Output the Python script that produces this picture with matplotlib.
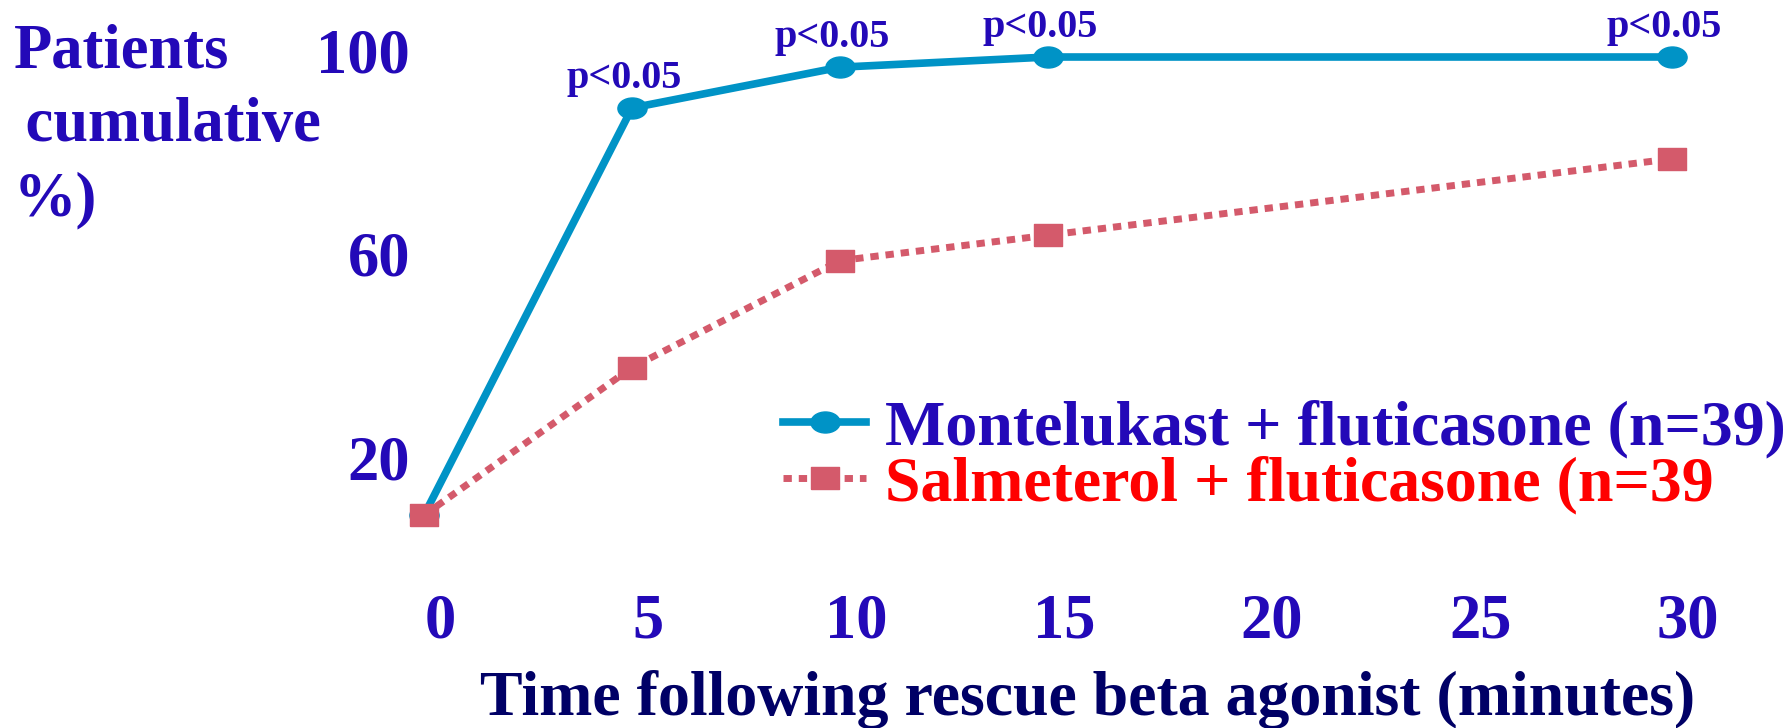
import matplotlib
matplotlib.use("Agg")
import numpy as np
import matplotlib.pyplot as plt
from matplotlib.path import Path
from matplotlib.transforms import ScaledTranslation

# values
time_min = [0, 5, 10, 15, 30]
montelukast_pct = [10, 90, 98, 100, 100]
salmeterol_pct = [10, 39, 60, 65, 80]
p_labels = ["", "p<0.05", "p<0.05", "p<0.05", "p<0.05"]
x_ticks = [0, 5, 10, 15, 20, 25, 30]
y_ticks = [20, 60, 100]
series_names = ["Montelukast + fluticasone (n=39)", "Salmeterol + fluticasone (n=39"]

BLUE_TXT = "#2309B8"
NAVY = "#000066"
LINE_BLUE = "#0093C6"
ROSE = "#D45A6B"

plt.rcParams["font.family"] = ["Liberation Serif", "DejaVu Serif"]
plt.rcParams["font.weight"] = "bold"
plt.rcParams["axes.labelweight"] = "bold"

fig = plt.figure(figsize=(17.87, 7.28), dpi=100)
ax = fig.add_axes([0.2373, 0.2225, 0.6984, 0.6992])
ax.set_xlim(0, 30)
ax.set_ylim(0, 100)

# slightly flattened marker shapes, as on the slide
circ = Path.unit_circle()
ellipse = Path(circ.vertices * np.array([1.0, 0.72]), circ.codes)
box = [(-1, -0.8), (1, -0.8), (1, 0.8), (-1, 0.8), (-1, -0.8)]

ax.plot(time_min, montelukast_pct, color=LINE_BLUE, lw=5.5, marker=ellipse, ms=21,
        clip_on=False, label=series_names[0])
ax.plot(time_min, salmeterol_pct, color=ROSE, lw=5, ls=(0, (1.2, 1.0)),
        dash_capstyle="butt", marker=box, ms=20, clip_on=False, label=series_names[1])

for x, y, t in zip(time_min, montelukast_pct, p_labels):
    if t:
        ax.annotate(t, (x, y), xytext=(-8, 20), textcoords="offset pixels",
                    ha="center", va="baseline", fontsize=29, color=BLUE_TXT,
                    annotation_clip=False)

ax.set_xticks(x_ticks)
ax.set_yticks(y_ticks)
ax.tick_params(length=0, labelsize=45, labelcolor=BLUE_TXT)
ax.tick_params(axis="x", pad=20)
ax.tick_params(axis="y", pad=10)
for s in ax.spines.values():
    s.set_visible(False)

# tick labels sit a bit off the data positions on the slide
dx = ScaledTranslation(16 / 100, 0, fig.dpi_scale_trans)
for lab in ax.xaxis.get_majorticklabels():
    lab.set_transform(lab.get_transform() + dx)
dy = ScaledTranslation(0, 7 / 100, fig.dpi_scale_trans)
for lab in ax.yaxis.get_majorticklabels():
    lab.set_transform(lab.get_transform() + dy)

ax.set_xlabel("Time following rescue beta agonist (minutes)", fontsize=46,
              fontweight="bold", color=NAVY)
ax.xaxis.set_label_coords(0.532, -0.205)

ax.set_ylabel("Patients\ncumulative\n%)", rotation=0, ha="left", va="top",
              multialignment="left", fontsize=45, fontweight="bold",
              color=BLUE_TXT, linespacing=1.36)
ax.yaxis.set_label_coords(-0.329, 1.066)
# second line is nudged right on the slide
ax.yaxis.label.set_text("Patients\n\u2009cumulative\n%)")

ax.legend(loc="upper left", bbox_to_anchor=(783 / 1787, 1 - 400 / 728),
          bbox_transform=fig.transFigure, frameon=False, fontsize=46,
          handlelength=1.3, handletextpad=0.3, borderpad=0, borderaxespad=0,
          labelspacing=-0.05, labelcolor=[BLUE_TXT, "red"])

fig.savefig("out.png", dpi=100)
